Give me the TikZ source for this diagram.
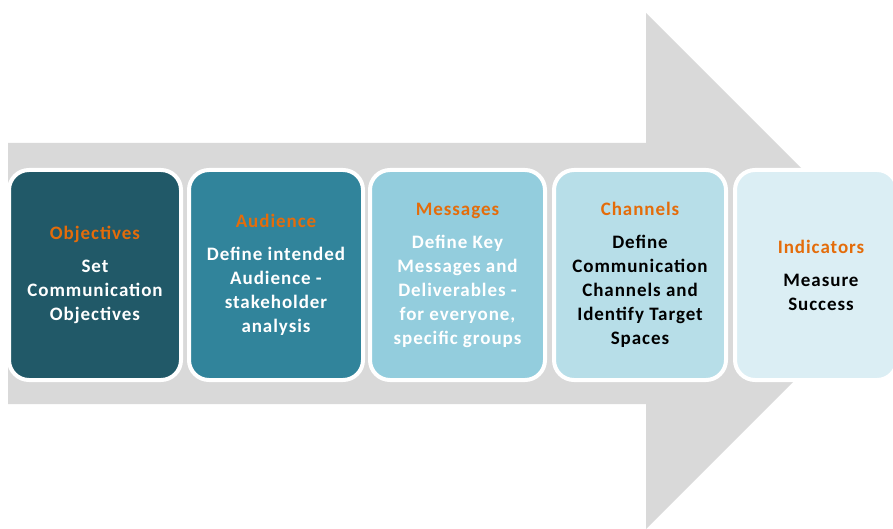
\documentclass[tikz,border=0pt]{standalone}
\usepackage{fontspec}
\setmainfont{Carlito}[LetterSpace=5]
\definecolor{arrowgray}{HTML}{D9D9D9}
\definecolor{cA}{HTML}{215968}
\definecolor{cB}{HTML}{31849B}
\definecolor{cC}{HTML}{93CDDD}
\definecolor{cD}{HTML}{B7DEE8}
\definecolor{cE}{HTML}{DBEEF4}
\definecolor{ttl}{HTML}{E46C0A}
\newcommand{\ttlx}[1]{{\color{ttl}#1}\\[9pt]}
\begin{document}
\begin{tikzpicture}[x=1pt,y=-1pt,
  box/.style={draw=white, line width=4pt, rounded corners=20pt, minimum height=210pt, align=center, font=\fontsize{19}{24}\selectfont\bfseries, inner sep=0pt},
  boxtext/.style={align=center, font=\fontsize{19}{24}\selectfont\bfseries, inner sep=0pt}]
\useasboundingbox (0,0) rectangle (893,529);
\clip (0,0) rectangle (893,529);
\fill[arrowgray] (8,143) -- (646,143) -- (646,13) -- (904,271) -- (646,529) -- (646,404) -- (8,404) -- cycle;
\node[box, fill=cA, text=white, minimum width=172pt] (b1) at (95,275) {\ttlx{Objectives}Set\\Communication\\Objectives};
\node[box, fill=cB, text=white, minimum width=174pt] (b2) at (276,275) {\ttlx{Audience}Define intended\\Audience -\\stakeholder\\analysis};
\node[box, fill=cC, text=white, minimum width=175pt] (b3) at (457.5,275) {\ttlx{Messages}Define Key\\Messages and\\Deliverables -\\for everyone,\\specific groups};
\node[box, fill=cD, text=black, minimum width=172pt] (b4) at (640,275) {\ttlx{Channels}Define\\Communication\\Channels and\\Identify Target\\Spaces};
\node[box, fill=cE, minimum width=162pt] (b5) at (816,275) {};
\node[boxtext, text=black] (t5) at (821,275) {\ttlx{Indicators}Measure\\Success};
\end{tikzpicture}
\end{document}
